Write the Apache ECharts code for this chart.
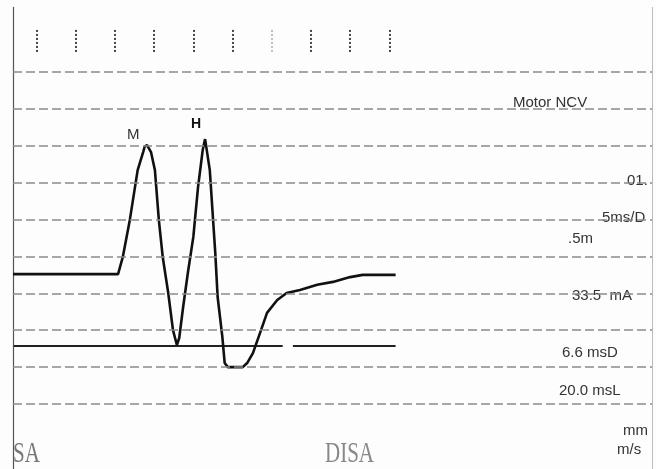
<!DOCTYPE html>
<html>
<head>
<meta charset="utf-8">
<script src="https://cdn.jsdelivr.net/npm/echarts@6/dist/echarts.min.js"></script>
<style>
  html, body { margin: 0; padding: 0; background: #fdfdfd; }
  #chart { width: 656px; height: 469px; }
</style>
</head>
<body>
<div id="chart"></div>
<script>
// ---- data (time in ms, amplitude in divisions) ----
const gridLevels = [0, 1, 2, 3, 4, 5, 6, 7, 8, 9];
const traceTime = [0, 13.4, 14.0, 14.9, 15.9, 16.6, 16.8, 17.1, 17.3, 17.6, 18.1, 18.6, 19.1, 19.8, 20.4, 20.9, 21.2, 21.7,
  22.3, 23.0, 23.6, 24.2, 24.5, 24.7, 25.1, 25.8, 26.1, 26.7, 27.0, 27.4, 29.3, 29.9, 30.6, 31.5, 32.4, 33.7,
  34.9, 36.6, 38.8, 40.8, 43.0, 44.6, 48.8];
const traceAmp = [3.52, 3.52, 3.98, 4.99, 6.34, 6.83, 6.98, 7.02, 6.98, 6.83, 6.34, 4.99, 3.98, 3.01, 2.01, 1.60, 1.79, 2.63,
  3.55, 4.53, 5.88, 6.89, 7.18, 7.18, 6.34, 4.09, 2.90, 1.82, 1.11, 1.00, 1.00, 1.12, 1.38, 1.92, 2.47, 2.82,
  3.01, 3.09, 3.23, 3.31, 3.44, 3.50, 3.50];
const refLevel = 1.57;
const refSegments = [[0.1, 34.4], [35.7, 48.8]];
const tickTimes = [3, 8, 13, 18, 23, 28, 38, 43, 48];
const faintTickTimes = [33];
const tickTop = 10.14, tickBottom = 9.49;
const peakLabels = ['M', 'H'];
const readouts = ['Motor NCV', '01.', '5ms/D', '.5m', '33.5  mA', '6.6 msD', '20.0 msL', 'mm', 'm/s'];
const footerLabels = ['SA', 'DISA'];

const chart = echarts.init(document.getElementById('chart'), null, { renderer: 'canvas' });

const traceData = traceTime.map((t, i) => [t, traceAmp[i]]);
const refData = refSegments.map(s => ({ coords: [[s[0], refLevel], [s[1], refLevel]] }));
const tickData = tickTimes.map(t => ({ coords: [[t, tickTop], [t, tickBottom]] }));
const faintTickData = faintTickTimes.map(t => ({ coords: [[t, tickTop], [t, tickBottom]] }));

const FONT = '"Liberation Sans", Arial, sans-serif';
const readoutPos = [
  [513, 95], [627, 173], [602, 210], [568, 231], [572, 288], [562, 345], [559, 383], [623, 423], [617, 442]
];
const textGraphics = readouts.map((txt, i) => ({
  type: 'text', left: readoutPos[i][0], top: readoutPos[i][1],
  style: { text: txt, font: '15px ' + FONT, fill: '#333' }
}));
textGraphics.push(
  { type: 'text', left: 127, top: 127, style: { text: peakLabels[0], font: '15px ' + FONT, fill: '#333' } },
  { type: 'text', left: 191, top: 117, style: { text: peakLabels[1], font: 'bold 14px ' + FONT, fill: '#111' } },
  { type: 'text', left: 13, top: 439, scaleX: 0.7, style: { text: footerLabels[0], font: '30px "Liberation Serif", serif', fill: '#777' } },
  { type: 'text', left: 325, top: 439, scaleX: 0.7, style: { text: footerLabels[1], font: '30px "Liberation Serif", serif', fill: '#888' } }
);

chart.setOption({
  backgroundColor: '#fdfdfd',
  animation: false,
  grid: { left: 13, right: 4, top: 7.43, bottom: 0.44 },
  xAxis: { type: 'value', min: 0, max: 81.5, show: false },
  yAxis: [
    { type: 'value', min: -1.75, max: 10.75, position: 'left',
      axisLine: { show: true, lineStyle: { color: '#555', width: 1.2 } },
      axisTick: { show: false }, axisLabel: { show: false }, splitLine: { show: false } },
    { type: 'value', min: -1.75, max: 10.75, position: 'right',
      axisLine: { show: true, lineStyle: { color: '#bbb', width: 1 } },
      axisTick: { show: false }, axisLabel: { show: false }, splitLine: { show: false } }
  ],
  series: [
    {
      type: 'line', data: [], silent: true,
      markLine: {
        symbol: 'none', silent: true, label: { show: false },
        lineStyle: { color: '#8a8a8a', type: [9, 4], width: 1.5 },
        data: gridLevels.map(v => ({ yAxis: v }))
      }
    },
    {
      type: 'lines', coordinateSystem: 'cartesian2d', polyline: false, silent: true,
      lineStyle: { color: '#222', width: 2, opacity: 1 },
      data: refData
    },
    {
      type: 'lines', coordinateSystem: 'cartesian2d', silent: true,
      lineStyle: { color: '#444', width: 2, type: [2, 2], opacity: 1 },
      data: tickData
    },
    {
      type: 'lines', coordinateSystem: 'cartesian2d', silent: true,
      lineStyle: { color: '#aaa', width: 1.5, type: [2, 2], opacity: 1 },
      data: faintTickData
    },
    {
      type: 'line', data: traceData, showSymbol: false, silent: true,
      lineStyle: { color: '#111', width: 2.6 }
    }
  ],
  graphic: textGraphics
});
</script>
</body>
</html>
